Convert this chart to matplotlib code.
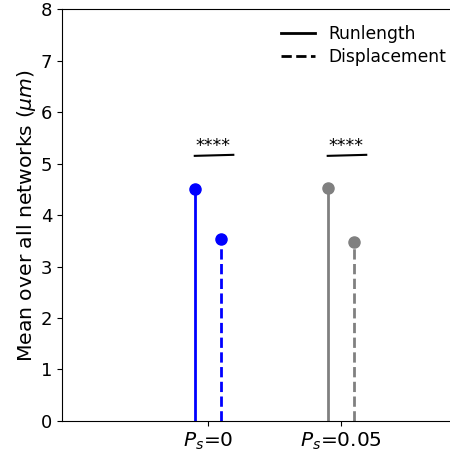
import matplotlib
matplotlib.use("Agg")
from matplotlib import pyplot as plt
from matplotlib.lines import Line2D

conditions = ["$P_s$=0", "$P_s$=0.05"]
colors = ["blue", "gray"]
runlength = [4.50, 4.52]
displacement = [3.54, 3.48]
sig_labels = ["****", "****"]
sig_height = 5.15

fig, ax = plt.subplots(figsize=(4.5, 4.59), dpi=100)
fig.subplots_adjust(left=0.138, right=1.0, top=0.98, bottom=0.083)

off = 0.1
for i, (c, r, d) in enumerate(zip(colors, runlength, displacement)):
    x = i + 1
    ax.plot([x - off, x - off], [0, r], color=c, lw=2, ls="-")
    ax.plot(x - off, r, "o", color=c, ms=8)
    ax.plot([x + off, x + off], [0, d], color=c, lw=2, ls="--")
    ax.plot(x + off, d, "o", color=c, ms=8)
    ax.plot([x - off, x + off + 0.09], [sig_height, sig_height + 0.02], color="k", lw=1.5)
    ax.text(x + 0.04, sig_height + 0.01, sig_labels[i], ha="center", va="bottom", fontsize=12.5)

ax.set_xlim(-0.098, 2.82)
ax.set_ylim(0, 8)
ax.set_xticks([1, 2])
ax.set_xticklabels(conditions, fontsize=14.5)
ax.tick_params(axis="y", labelsize=13)
ax.set_ylabel("Mean over all networks ($\\mu m$)", fontsize=14.7, labelpad=2)
ax.spines["right"].set_visible(False)

handles = [Line2D([0], [0], color="k", lw=2, ls="-"),
           Line2D([0], [0], color="k", lw=2, ls="--")]
ax.legend(handles, ["Runlength", "Displacement"], frameon=False, fontsize=12.3,
          loc="upper right", bbox_to_anchor=(1.03, 1.0), labelspacing=0.3)

plt.savefig("out.png")
